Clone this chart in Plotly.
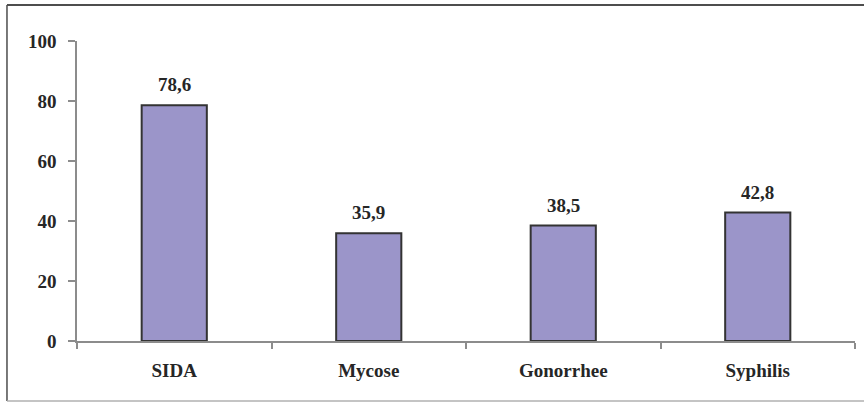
import plotly.graph_objects as go

# Share of respondents aware of each infection (%)
categories = ["SIDA", "Mycose", "Gonorrhee", "Syphilis"]
values = [78.6, 35.9, 38.5, 42.8]
y_ticks = [0, 20, 40, 60, 80, 100]

font_family = "Liberation Serif, Times New Roman, serif"
text_color = "#262626"
axis_color = "#8c8c8c"
bold_font = dict(family=font_family, size=19, color=text_color, weight="bold")

fig = go.Figure(
    go.Bar(
        x=categories,
        y=values,
        marker=dict(color="#9b95c9", line=dict(color="#333333", width=2)),
        cliponaxis=False,
    )
)

# value labels above each bar, with comma as decimal separator
for cat, v in zip(categories, values):
    fig.add_annotation(
        x=cat, y=v, xref="x", yref="y",
        text=f"{v:.1f}".replace(".", ","),
        showarrow=False,
        yanchor="bottom",
        yshift=8,
        font=bold_font,
    )

fig.update_layout(
    width=864,
    height=403,
    margin=dict(l=77, r=9, t=41, b=62),
    paper_bgcolor="white",
    plot_bgcolor="white",
    bargap=0.665,
    showlegend=False,
    font=bold_font,
    shapes=[
        # frame around the chart area (open on the right)
        dict(type="line", xref="paper", yref="paper",
             x0=-0.09, x1=1.02, y0=1.12, y1=1.12,
             line=dict(color="#4d4d4d", width=2)),
        dict(type="line", xref="paper", yref="paper",
             x0=-0.09, x1=-0.09, y0=1.12, y1=-0.2,
             line=dict(color="#4d4d4d", width=1.5)),
        dict(type="line", xref="paper", yref="paper",
             x0=-0.09, x1=1.02, y0=-0.2, y1=-0.2,
             line=dict(color="#b0b0b0", width=1.5)),
    ],
)

fig.update_xaxes(
    showline=True,
    linecolor=axis_color,
    linewidth=1.5,
    ticks="outside",
    tickson="boundaries",
    ticklen=6,
    tickcolor=axis_color,
    tickwidth=1.5,
    ticklabelstandoff=11,
    tickfont=bold_font,
    showgrid=False,
    zeroline=False,
)

fig.update_yaxes(
    range=[0, 100],
    tickvals=y_ticks,
    showline=True,
    linecolor=axis_color,
    linewidth=1.5,
    ticks="outside",
    ticklen=7,
    tickcolor=axis_color,
    tickwidth=1.5,
    ticklabelstandoff=8,
    tickfont=bold_font,
    showgrid=False,
    zeroline=False,
)

fig.write_html("out.html")
